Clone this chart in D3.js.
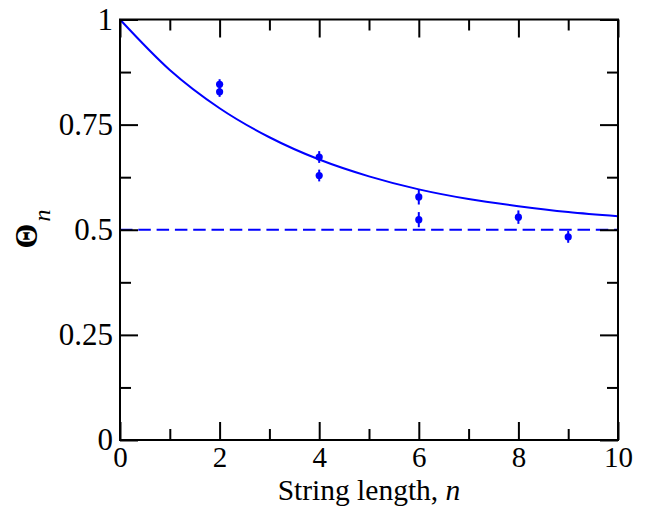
<!DOCTYPE html>
<html>
<head>
<meta charset="utf-8">
<script src="https://cdn.jsdelivr.net/npm/d3@7"></script>
<style>
  html, body { margin: 0; padding: 0; background: #fff; }
  svg { display: block; }
  text { font-family: "Liberation Serif", "DejaVu Serif", serif; }
</style>
</head>
<body>
<svg id="chart" width="647" height="506"></svg>
<script>
// ---- data ----
const pointN     = [2, 2, 4, 4, 6, 6, 8, 9];
const pointTheta = [0.846, 0.828, 0.673, 0.629, 0.578, 0.524, 0.530, 0.483];
const pointErr   = [0.012, 0.012, 0.014, 0.014, 0.018, 0.018, 0.016, 0.014];

const curveN     = [0, 1, 2, 3, 4, 5, 6, 7, 8, 9, 10];
const curveTheta = [1.0, 0.880, 0.789, 0.720, 0.667, 0.627, 0.596, 0.573, 0.556, 0.542, 0.532];

const limitN     = [0, 10];
const limitTheta = [0.5, 0.5];

const xMajorTicks = [0, 2, 4, 6, 8, 10];
const xMinorTicks = [1, 3, 5, 7, 9];
const yMajorTicks = [0, 0.25, 0.5, 0.75, 1];
const yMajorLabels = ["0", "0.25", "0.5", "0.75", "1"];
const yMinorTicks = [0.125, 0.375, 0.625, 0.875];

const xTitle = "String length, ";
const xTitleVar = "n";
const yTitle = "Θ";
const yTitleSub = "n";

// ---- layout ----
const svg = d3.select("#chart");
const L = 120, R = 618, T = 19.5, B = 440;
const x = d3.scaleLinear().domain([0, 10]).range([L, R]);
const y = d3.scaleLinear().domain([0, 1]).range([B, T]);
const blue = "#0000ff";
const fs = 31;

// dashed limit line
svg.append("path")
  .datum(limitN.map((n, i) => [n, limitTheta[i]]))
  .attr("d", d3.line().x(d => x(d[0])).y(d => y(d[1])))
  .attr("fill", "none").attr("stroke", blue).attr("stroke-width", 2)
  .attr("stroke-dasharray", "12.5,5.8");

// fitted curve
svg.append("path")
  .datum(curveN.map((n, i) => [n, curveTheta[i]]))
  .attr("d", d3.line().x(d => x(d[0])).y(d => y(d[1])).curve(d3.curveMonotoneX))
  .attr("fill", "none").attr("stroke", blue).attr("stroke-width", 2);

// error bars and points
const pts = pointN.map((n, i) => ({n, v: pointTheta[i], e: pointErr[i]}));
svg.append("g").selectAll("line").data(pts).join("line")
  .attr("x1", d => x(d.n)).attr("x2", d => x(d.n))
  .attr("y1", d => y(d.v - d.e)).attr("y2", d => y(d.v + d.e))
  .attr("stroke", blue).attr("stroke-width", 2);
svg.append("g").selectAll("circle").data(pts).join("circle")
  .attr("cx", d => x(d.n)).attr("cy", d => y(d.v)).attr("r", 3.6)
  .attr("fill", blue);

// axes
function styleAxis(size) {
  return g => {
    g.select(".domain").remove();
    g.selectAll(".tick line").attr("stroke", "#000").attr("stroke-width", 2);
    g.selectAll("text").attr("fill", "#000").style("font-size", size + "px")
      .style("font-family", '"Liberation Serif", serif');
  };
}
const major = 18, minor = 11;

svg.append("g").attr("transform", `translate(0,${B})`)
  .call(d3.axisBottom(x).tickValues(xMajorTicks).tickSize(-major).tickPadding(6).tickFormat(d3.format("d")))
  .call(styleAxis(29));
svg.append("g").attr("transform", `translate(0,${B})`)
  .call(d3.axisBottom(x).tickValues(xMinorTicks).tickSize(-minor).tickFormat(""))
  .call(styleAxis(29));
svg.append("g").attr("transform", `translate(0,${T})`)
  .call(d3.axisTop(x).tickValues(xMajorTicks).tickSize(-major).tickFormat(""))
  .call(styleAxis(29));
svg.append("g").attr("transform", `translate(0,${T})`)
  .call(d3.axisTop(x).tickValues(xMinorTicks).tickSize(-minor).tickFormat(""))
  .call(styleAxis(29));

svg.append("g").attr("transform", `translate(${L},0)`)
  .call(d3.axisLeft(y).tickValues(yMajorTicks).tickSize(-major).tickPadding(7)
        .tickFormat((d, i) => yMajorLabels[i]))
  .call(styleAxis(fs));
svg.append("g").attr("transform", `translate(${L},0)`)
  .call(d3.axisLeft(y).tickValues(yMinorTicks).tickSize(-minor).tickFormat(""))
  .call(styleAxis(fs));
svg.append("g").attr("transform", `translate(${R},0)`)
  .call(d3.axisRight(y).tickValues(yMajorTicks).tickSize(-major).tickFormat(""))
  .call(styleAxis(fs));
svg.append("g").attr("transform", `translate(${R},0)`)
  .call(d3.axisRight(y).tickValues(yMinorTicks).tickSize(-minor).tickFormat(""))
  .call(styleAxis(fs));

// frame
svg.append("rect").attr("x", L).attr("y", T).attr("width", R - L).attr("height", B - T)
  .attr("fill", "none").attr("stroke", "#000").attr("stroke-width", 2);

// x title
const xt = svg.append("text").attr("x", (L + R) / 2).attr("y", 499.5)
  .attr("text-anchor", "middle").style("font-size", "29.5px").attr("fill", "#000");
xt.append("tspan").text(xTitle);
xt.append("tspan").style("font-style", "italic").text(xTitleVar);

// y title
const yt = svg.append("text").attr("transform", "translate(37,229) rotate(-90)")
  .attr("text-anchor", "middle").attr("fill", "#000");
yt.append("tspan").style("font-size", "32px").style("font-weight", "bold").text(yTitle);
yt.append("tspan").style("font-size", "24px").style("font-style", "italic").attr("dy", 13).attr("dx", 2).text(yTitleSub);
</script>
</body>
</html>
